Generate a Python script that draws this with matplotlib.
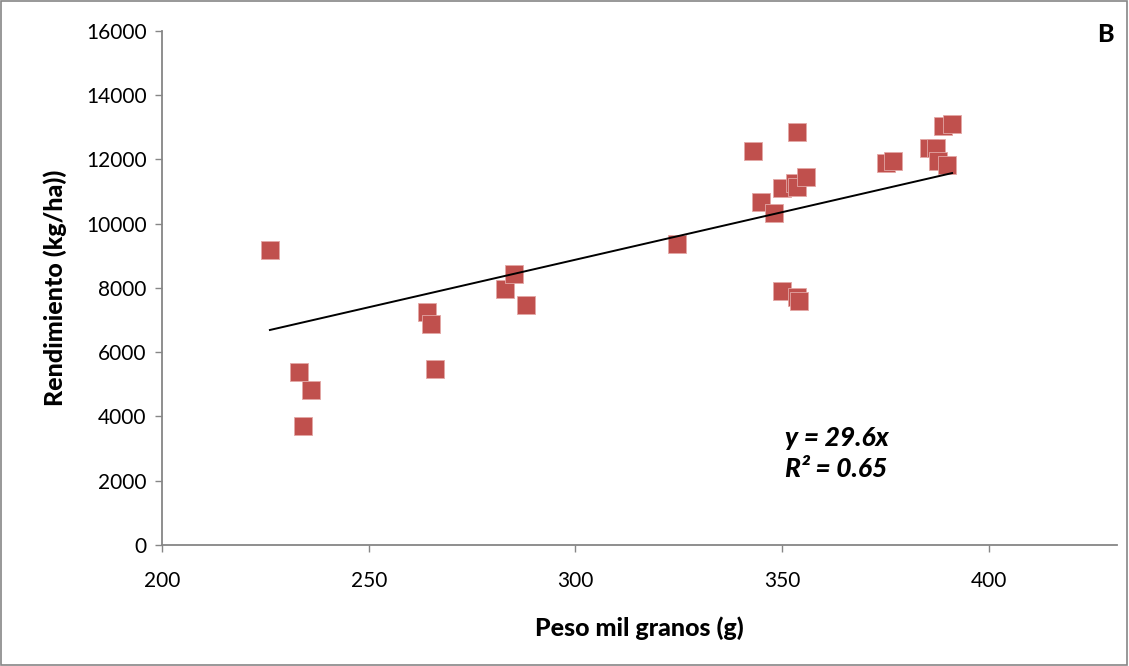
import matplotlib
matplotlib.use("Agg")
import matplotlib.pyplot as plt
from matplotlib.patches import Rectangle

plt.rcParams['font.family'] = ['Lato', 'DejaVu Sans']

# Thousand-grain weight (g) and yield (kg/ha)
peso = [226.1, 233.1, 236.0, 234.1, 264.1, 265.1, 266.0, 283.0, 285.1, 288.0,
        324.5, 342.9, 353.6, 344.9, 348.0, 349.9, 353.1, 353.6, 355.7, 349.9,
        353.5, 354.0, 375.1, 376.8, 388.9, 391.1, 385.5, 387.2, 387.7, 389.8]
rendimiento = [9180, 5380, 4820, 3690, 7250, 6880, 5480, 7960, 8430, 7470,
               9370, 12260, 12850, 10670, 10330, 11110, 11270, 11140, 11450, 7900,
               7720, 7590, 11890, 11950, 13040, 13100, 12360, 12360, 11950, 11830]

pendiente = 29.6
r2 = 0.65

x_ticks = [200, 250, 300, 350, 400]
y_ticks = list(range(0, 16001, 2000))

fig = plt.figure(figsize=(11.29, 6.66), dpi=100)
ax = fig.add_axes([0.1435, 0.1817, 0.9894 - 0.1435, 0.9535 - 0.1817])

ax.scatter(peso, rendimiento, marker='s', s=175, color='#C0504D',
           edgecolors='#E3A7A5', linewidths=0.6, zorder=3)

x0, x1 = min(peso), max(peso)
ax.plot([x0, x1], [pendiente * x0, pendiente * x1], color='black', lw=1.4, zorder=4)

ax.set_xlim(200, 431)
ax.set_ylim(0, 16000)
ax.set_xticks(x_ticks)
ax.set_yticks(y_ticks)
ax.tick_params(axis='both', colors='#868686', labelcolor='black', labelsize=15,
               length=5, width=1, direction='out')
ax.tick_params(axis='x', pad=14)
ax.tick_params(axis='y', pad=6)
for side in ('top', 'right'):
    ax.spines[side].set_visible(False)
for side in ('left', 'bottom'):
    ax.spines[side].set_color('#868686')
    ax.spines[side].set_linewidth(1.3)

ax.set_xlabel('Peso mil granos (g)', fontsize=18, fontweight='black', labelpad=18)
ax.set_ylabel('Rendimiento (kg/ha))', fontsize=18, fontweight='black', labelpad=14)

ax.text(0.652, 0.208, f'y = {pendiente}x', transform=ax.transAxes,
        fontsize=19, fontweight='black', style='italic', ha='left', va='center')
ax.text(0.652, 0.148, f'R² = {r2}', transform=ax.transAxes,
        fontsize=19, fontweight='black', style='italic', ha='left', va='center')

fig.text(0.979, 0.948, 'B', fontsize=18, fontweight='black', ha='center', va='center')

fig.patches.append(Rectangle((0.001, 0.001), 0.997, 0.997, transform=fig.transFigure,
                             fill=False, edgecolor='#868686', lw=1.2))

fig.savefig('out.png', dpi=100)
